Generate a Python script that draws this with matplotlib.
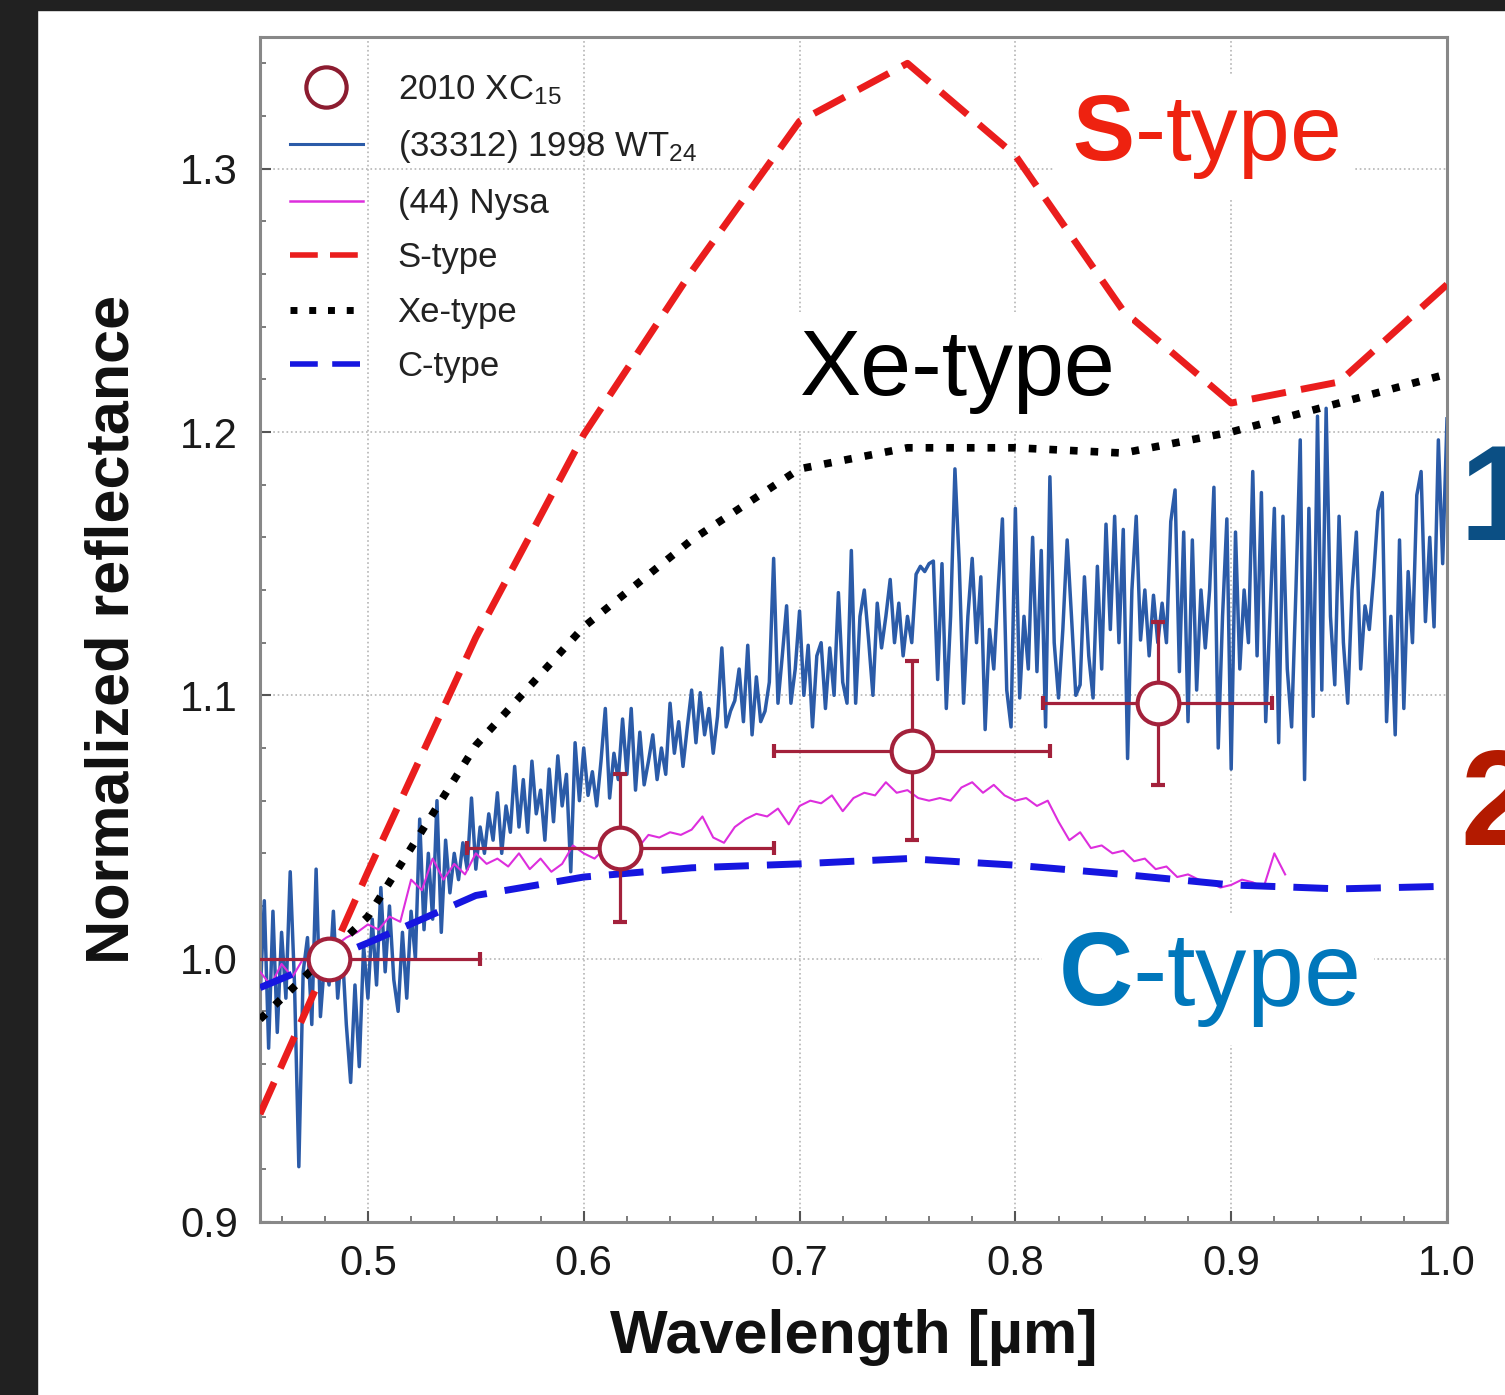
import numpy as np
import matplotlib
matplotlib.use('Agg')
import matplotlib.pyplot as plt
from matplotlib.ticker import MultipleLocator, FormatStrFormatter
from matplotlib.lines import Line2D
from matplotlib.patches import Rectangle

plt.rcParams['font.family'] = ['Liberation Sans', 'DejaVu Sans']
plt.rcParams['mathtext.fontset'] = 'custom'
plt.rcParams['mathtext.rm'] = 'Liberation Sans'
plt.rcParams['mathtext.it'] = 'Liberation Sans:italic'
plt.rcParams['mathtext.bf'] = 'Liberation Sans:bold'

# ---------------- data ----------------
# Bus-DeMeo class mean spectra (sampled every 0.05 um)
type_wl = [0.45, 0.50, 0.55, 0.60, 0.65, 0.70, 0.75, 0.80, 0.85, 0.90, 0.95, 1.00]
s_type = [0.941, 1.033, 1.122, 1.199, 1.261, 1.318, 1.340, 1.305, 1.246, 1.211, 1.219, 1.256]
xe_type = [0.977, 1.016, 1.081, 1.126, 1.159, 1.186, 1.194, 1.194, 1.192, 1.200, 1.211, 1.222]
c_type = [0.989, 1.006, 1.024, 1.031, 1.0345, 1.036, 1.038, 1.0355, 1.032, 1.028, 1.0265, 1.0275]

# 2010 XC15 photometry
xc15_wl = [0.482, 0.617, 0.752, 0.866]
xc15_refl = [1.000, 1.042, 1.079, 1.097]
xc15_wl_err = [0.070, 0.071, 0.064, 0.053]
xc15_refl_err = [0.0, 0.028, 0.034, 0.031]

# (33312) 1998 WT24 spectrum, 0.450-1.000 um every 0.002 um
wt24_refl = [
    0.985, 1.022, 0.966, 1.018, 0.972, 1.010, 0.985, 1.033, 0.990, 0.921,
    0.995, 1.008, 0.975, 1.034, 0.978, 1.000, 0.990, 1.018, 0.985, 1.005,
    0.975, 0.953, 0.990, 0.959, 1.005, 0.985, 1.015, 0.990, 1.027, 0.995,
    1.020, 0.992, 0.980, 1.010, 0.985, 1.018, 1.000, 1.053, 1.011, 1.040,
    1.015, 1.060, 1.010, 1.045, 1.025, 1.040, 1.030, 1.044, 1.034, 1.061,
    1.034, 1.050, 1.040, 1.055, 1.045, 1.063, 1.040, 1.058, 1.048, 1.073,
    1.050, 1.068, 1.048, 1.075, 1.055, 1.064, 1.045, 1.072, 1.052, 1.077,
    1.058, 1.070, 1.033, 1.082, 1.060, 1.080, 1.062, 1.071, 1.058, 1.075,
    1.095, 1.061, 1.078, 1.068, 1.091, 1.070, 1.095, 1.064, 1.086, 1.066,
    1.075, 1.085, 1.068, 1.080, 1.070, 1.097, 1.078, 1.090, 1.073, 1.088,
    1.102, 1.082, 1.101, 1.085, 1.095, 1.078, 1.092, 1.118, 1.088, 1.094,
    1.098, 1.110, 1.090, 1.119, 1.085, 1.107, 1.090, 1.094, 1.105, 1.152,
    1.097, 1.115, 1.134, 1.097, 1.110, 1.132, 1.100, 1.119, 1.088, 1.115,
    1.120, 1.095, 1.118, 1.100, 1.139, 1.105, 1.097, 1.155, 1.097, 1.130,
    1.140, 1.121, 1.100, 1.135, 1.118, 1.130, 1.144, 1.120, 1.135, 1.115,
    1.130, 1.120, 1.146, 1.149, 1.147, 1.150, 1.151, 1.106, 1.150, 1.095,
    1.130, 1.186, 1.150, 1.097, 1.130, 1.152, 1.120, 1.145, 1.087, 1.125,
    1.110, 1.140, 1.167, 1.102, 1.088, 1.171, 1.099, 1.130, 1.110, 1.160,
    1.109, 1.155, 1.088, 1.183, 1.120, 1.099, 1.125, 1.159, 1.130, 1.100,
    1.104, 1.145, 1.115, 1.099, 1.149, 1.110, 1.165, 1.125, 1.168, 1.120,
    1.163, 1.076, 1.140, 1.168, 1.121, 1.140, 1.115, 1.138, 1.120, 1.135,
    1.120, 1.166, 1.178, 1.109, 1.162, 1.090, 1.159, 1.102, 1.140, 1.118,
    1.140, 1.179, 1.080, 1.130, 1.167, 1.072, 1.162, 1.110, 1.140, 1.120,
    1.185, 1.115, 1.177, 1.090, 1.130, 1.171, 1.082, 1.168, 1.110, 1.088,
    1.140, 1.197, 1.068, 1.171, 1.092, 1.206, 1.102, 1.209, 1.130, 1.104,
    1.168, 1.120, 1.097, 1.140, 1.162, 1.110, 1.134, 1.125, 1.145, 1.170,
    1.177, 1.090, 1.130, 1.085, 1.159, 1.095, 1.147, 1.120, 1.176, 1.185,
    1.128, 1.160, 1.126, 1.197, 1.150, 1.205,
]
wt24_wl = np.linspace(0.450, 1.000, len(wt24_refl))

# (44) Nysa spectrum, 0.450-0.925 um every 0.005 um
nysa_refl = [
    0.995, 0.990, 0.998, 0.993, 1.000, 0.998, 1.002, 1.005, 1.008, 1.010,
    1.013, 1.011, 1.016, 1.014, 1.030, 1.026, 1.038, 1.030, 1.036, 1.032,
    1.040, 1.036, 1.038, 1.035, 1.040, 1.034, 1.038, 1.033, 1.036, 1.043,
    1.040, 1.038, 1.042, 1.040, 1.045, 1.042, 1.047, 1.046, 1.048, 1.047,
    1.049, 1.054, 1.046, 1.044, 1.050, 1.053, 1.055, 1.054, 1.057, 1.051,
    1.058, 1.060, 1.059, 1.062, 1.056, 1.061, 1.063, 1.062, 1.067, 1.063,
    1.064, 1.061, 1.060, 1.061, 1.060, 1.065, 1.067, 1.063, 1.066, 1.062,
    1.060, 1.061, 1.058, 1.060, 1.052, 1.045, 1.048, 1.042, 1.043, 1.040,
    1.041, 1.037, 1.038, 1.034, 1.035, 1.031, 1.032, 1.030, 1.029, 1.027,
    1.028, 1.030, 1.029, 1.027, 1.040, 1.032,
]
nysa_wl = np.linspace(0.450, 0.925, len(nysa_refl))

x_ticks = [0.5, 0.6, 0.7, 0.8, 0.9, 1.0]
y_ticks = [0.9, 1.0, 1.1, 1.2, 1.3]

# ---------------- styles ----------------
C_WT24 = '#2b5ba8'
C_NYSA = '#dd2edd'
C_S = '#ea1d1d'
C_XE = '#000000'
C_C = '#1616e0'
C_XC = '#a3213b'

W, H = 1505, 1395
fig = plt.figure(figsize=(W / 100, H / 100), dpi=100, facecolor='white')
# dark slide border
fig.patches.append(Rectangle((0, 0), 37 / W, 1, transform=fig.transFigure,
                             color='#212121', zorder=-10))
fig.patches.append(Rectangle((0, 1 - 10 / H), 1, 10 / H, transform=fig.transFigure,
                             color='#212121', zorder=-10))

ax = fig.add_axes([260 / W, 1 - 1222 / H, (1447 - 260) / W, (1222 - 37) / H])
ax.set_xlim(0.45, 1.0)
ax.set_ylim(0.9, 1.35)

ax.plot(wt24_wl, wt24_refl, color=C_WT24, lw=2.5, zorder=2)
ax.plot(nysa_wl, nysa_refl, color=C_NYSA, lw=1.5, zorder=3)
ax.plot(type_wl, s_type, color=C_S, lw=5, ls=(0, (5, 2.2)), zorder=4)
ax.plot(type_wl, xe_type, color=C_XE, lw=5.5, ls=(0, (1, 1.7)), zorder=4)
ax.plot(type_wl, c_type, color=C_C, lw=5, ls=(0, (5, 2.6)), zorder=4)
ax.errorbar(xc15_wl, xc15_refl, xerr=xc15_wl_err, yerr=xc15_refl_err,
            fmt='o', ms=30, mfc='white', mec=C_XC, mew=3, ecolor=C_XC,
            elinewidth=2.3, capsize=5, capthick=2.3, zorder=6)

# axes cosmetics
ax.xaxis.set_major_locator(plt.FixedLocator(x_ticks))
ax.yaxis.set_major_locator(plt.FixedLocator(y_ticks))
ax.xaxis.set_minor_locator(MultipleLocator(0.02))
ax.yaxis.set_minor_locator(MultipleLocator(0.02))
ax.xaxis.set_major_formatter(FormatStrFormatter('%.1f'))
ax.yaxis.set_major_formatter(FormatStrFormatter('%.1f'))
ax.tick_params(which='major', direction='in', length=8, width=1.5,
               color='#555555', labelsize=30, pad=16, labelcolor='#1a1a1a')
ax.tick_params(which='minor', direction='in', length=4.5, width=1.2, color='#666666')
ax.grid(which='major', color='#b5b5b5', ls=':', lw=1.2)
ax.set_axisbelow(True)
for sp in ax.spines.values():
    sp.set_color('#888888')
    sp.set_linewidth(2.2)

ax.set_xlabel('Wavelength [µm]', fontsize=44, fontweight='bold', labelpad=18,
              color='#111111')
ax.set_ylabel('Normalized reflectance', fontsize=44, fontweight='bold',
              labelpad=28, color='#111111')

# legend
handles = [
    Line2D([], [], marker='o', ls='none', ms=29, mfc='white', mec='#8c1c30', mew=3),
    Line2D([], [], color=C_WT24, lw=2.2),
    Line2D([], [], color=C_NYSA, lw=1.8),
    Line2D([], [], color=C_S, lw=4, ls=(0, (5, 2.2))),
    Line2D([], [], color=C_XE, lw=5, ls=(0, (1, 1.7))),
    Line2D([], [], color=C_C, lw=4, ls=(0, (5, 2.6))),
]
labels = ['2010 XC$_{15}$', '(33312) 1998 WT$_{24}$', '(44) Nysa',
          'S-type', 'Xe-type', 'C-type']
leg = ax.legend(handles, labels, loc='upper left',
                bbox_to_anchor=((290 - 260) / 1187, (1222 - 73) / 1185),
                frameon=False, fontsize=25, handlelength=2.1,
                handletextpad=1.0, labelspacing=0.62, borderpad=0,
                borderaxespad=0)
for t in leg.get_texts():
    t.set_color('#222222')

# class annotations
box = dict(facecolor='white', edgecolor='none', pad=12)
ax.text((1072 - 260) / 1187, (1222 - 160) / 1185, r'$\mathbf{S}$-type',
        transform=ax.transAxes, fontsize=67, color='#ee2210', va='baseline',
        ha='left', bbox=box, zorder=7)
ax.text((800 - 260) / 1187, (1222 - 395) / 1185, 'Xe-type',
        transform=ax.transAxes, fontsize=66, color='black', va='baseline',
        ha='left', bbox=box, zorder=7)
ax.text((1058 - 260) / 1187, (1222 - 1005) / 1185, r'$\mathbf{C}$-type',
        transform=ax.transAxes, fontsize=74, color='#0077bb', va='baseline',
        ha='left', bbox=box, zorder=7)

# slide labels cut off by the right edge of the picture (as in the original)
fig.text(1460 / W, 1 - 540 / H, '1', fontsize=97, fontweight='bold',
         color='#0b4f84', ha='left', va='baseline')
fig.text(1460 / W, 1 - 845 / H, '2', fontsize=97, fontweight='bold',
         color='#b31a00', ha='left', va='baseline')

fig.savefig('out.png', dpi=100, facecolor='white')
